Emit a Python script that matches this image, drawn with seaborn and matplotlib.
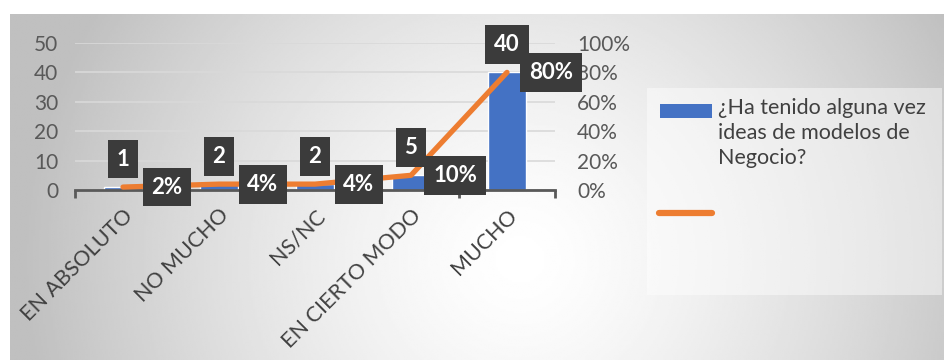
import numpy as np
import matplotlib
matplotlib.use("Agg")
import matplotlib.pyplot as plt
import seaborn as sns
from matplotlib.patches import Rectangle
from matplotlib.lines import Line2D
from matplotlib.ticker import FixedLocator, PercentFormatter

categories = ["EN ABSOLUTO", "NO MUCHO", "NS/NC", "EN CIERTO MODO", "MUCHO"]
counts = [1, 2, 2, 5, 40]
percents = [2, 4, 4, 10, 80]
series_label = "¿Ha tenido alguna vez\nideas de modelos de\nNegocio?"
left_ticks = [0, 10, 20, 30, 40, 50]
right_ticks = [0, 20, 40, 60, 80, 100]

sns.set_theme(style="white")
plt.rcParams["font.family"] = ["Lato", "DejaVu Sans"]

W, H = 944, 360
fig = plt.figure(figsize=(W / 100, H / 100), dpi=100)
fig.patch.set_facecolor("white")


def fx(px):
    return px / W


def fy(py):
    return 1 - py / H


# gradient background of chart area
bg = fig.add_axes([fx(10), 0, fx(934), (H - 14) / H])
xx, yy = np.meshgrid(np.linspace(10, 944, 470), np.linspace(14, 360, 180))
r = np.sqrt(((xx - 520) / 500) ** 2 + ((yy - 260) / 480) ** 2)
r = np.clip(r, 0, 1)
v = 1 - 0.25 * r ** 1.4
bg.imshow(v, cmap="gray", vmin=0, vmax=1, aspect="auto",
          extent=[10, 944, 360, 14], interpolation="bilinear")
bg.axis("off")

# main axes
ax = fig.add_axes([fx(75), fy(190), fx(480), 147 / H])
ax.patch.set_alpha(0)
x_pos = np.arange(len(categories))
sns.barplot(x=x_pos, y=counts, color="#4472C4", saturation=1, width=0.4,
            ax=ax, zorder=2)
ax.set_ylim(0, 50)
ax.set_xlim(-0.5, len(categories) - 0.5)
ax.yaxis.set_major_locator(FixedLocator(left_ticks))
ax.set_yticklabels([str(t) for t in left_ticks])
ax.grid(axis="y", color="#d9d9d9", linewidth=1.2, zorder=0)
ax.grid(axis="x", visible=False)
for s in ["top", "left", "right"]:
    ax.spines[s].set_visible(False)
ax.spines["bottom"].set_color("#595959")
ax.spines["bottom"].set_linewidth(2)
ax.spines["bottom"].set_zorder(3)
ax.set_xticks(x_pos)
ax.set_xticklabels(categories, rotation=45, ha="right",
                   rotation_mode="anchor", color="#404040", fontsize=15.5)
ax.xaxis.set_minor_locator(FixedLocator(np.arange(-0.5, len(categories), 1)))
ax.tick_params(axis="x", which="major", length=0, pad=11)
ax.tick_params(axis="x", which="minor", length=6, width=2, color="#595959",
               direction="out", bottom=True)
ax.tick_params(axis="y", length=0, pad=12, labelsize=15, labelcolor="#595959")
ax.set_xlabel("")
ax.set_ylabel("")

ax2 = ax.twinx()
sns.lineplot(x=x_pos, y=percents, color="#ED7D31", linewidth=3.8, ax=ax2,
             solid_capstyle="round", zorder=4)
ax2.set_ylim(0, 100)
ax2.set_xlim(-0.5, len(categories) - 0.5)
ax2.yaxis.set_major_locator(FixedLocator(right_ticks))
ax2.yaxis.set_major_formatter(PercentFormatter(100, decimals=0))
ax2.tick_params(axis="y", length=0, pad=16, labelsize=15, labelcolor="#595959")
for s in ax2.spines.values():
    s.set_visible(False)
ax2.set_ylabel("")
ax2.grid(False)

box = dict(boxstyle="square,pad=0.4", fc="#3b3b3b", ec="none")
for i, c in enumerate(counts):
    ax2.annotate(str(c), (x_pos[i], c), xycoords=ax.transData,
                 xytext=(0, 28), textcoords="offset pixels",
                 ha="center", va="center", color="white", fontweight="bold",
                 fontsize=16, bbox=box, zorder=10, annotation_clip=False)
for i, p in enumerate(percents):
    ax2.annotate(f"{p}%", (x_pos[i], p), xytext=(44, 0),
                 textcoords="offset pixels", ha="center", va="center",
                 color="white", fontweight="bold", fontsize=16, bbox=box,
                 zorder=11, annotation_clip=False)

# legend
fig.patches.append(Rectangle((fx(647), fy(295)), fx(295), 207 / H,
                             transform=fig.transFigure, fc="white", alpha=0.45,
                             ec="none"))
fig.patches.append(Rectangle((fx(660), fy(118)), fx(52), 14 / H,
                             transform=fig.transFigure, fc="#4472C4", ec="none"))
fig.lines.append(Line2D([fx(659), fx(712)], [fy(213), fy(213)],
                        transform=fig.transFigure, color="#ED7D31",
                        linewidth=4.5, solid_capstyle="round"))
fig.text(fx(718), fy(98), series_label, ha="left", va="top", fontsize=15.5,
         color="#404040", linespacing=1.3)

fig.savefig("out.png", dpi=100)
